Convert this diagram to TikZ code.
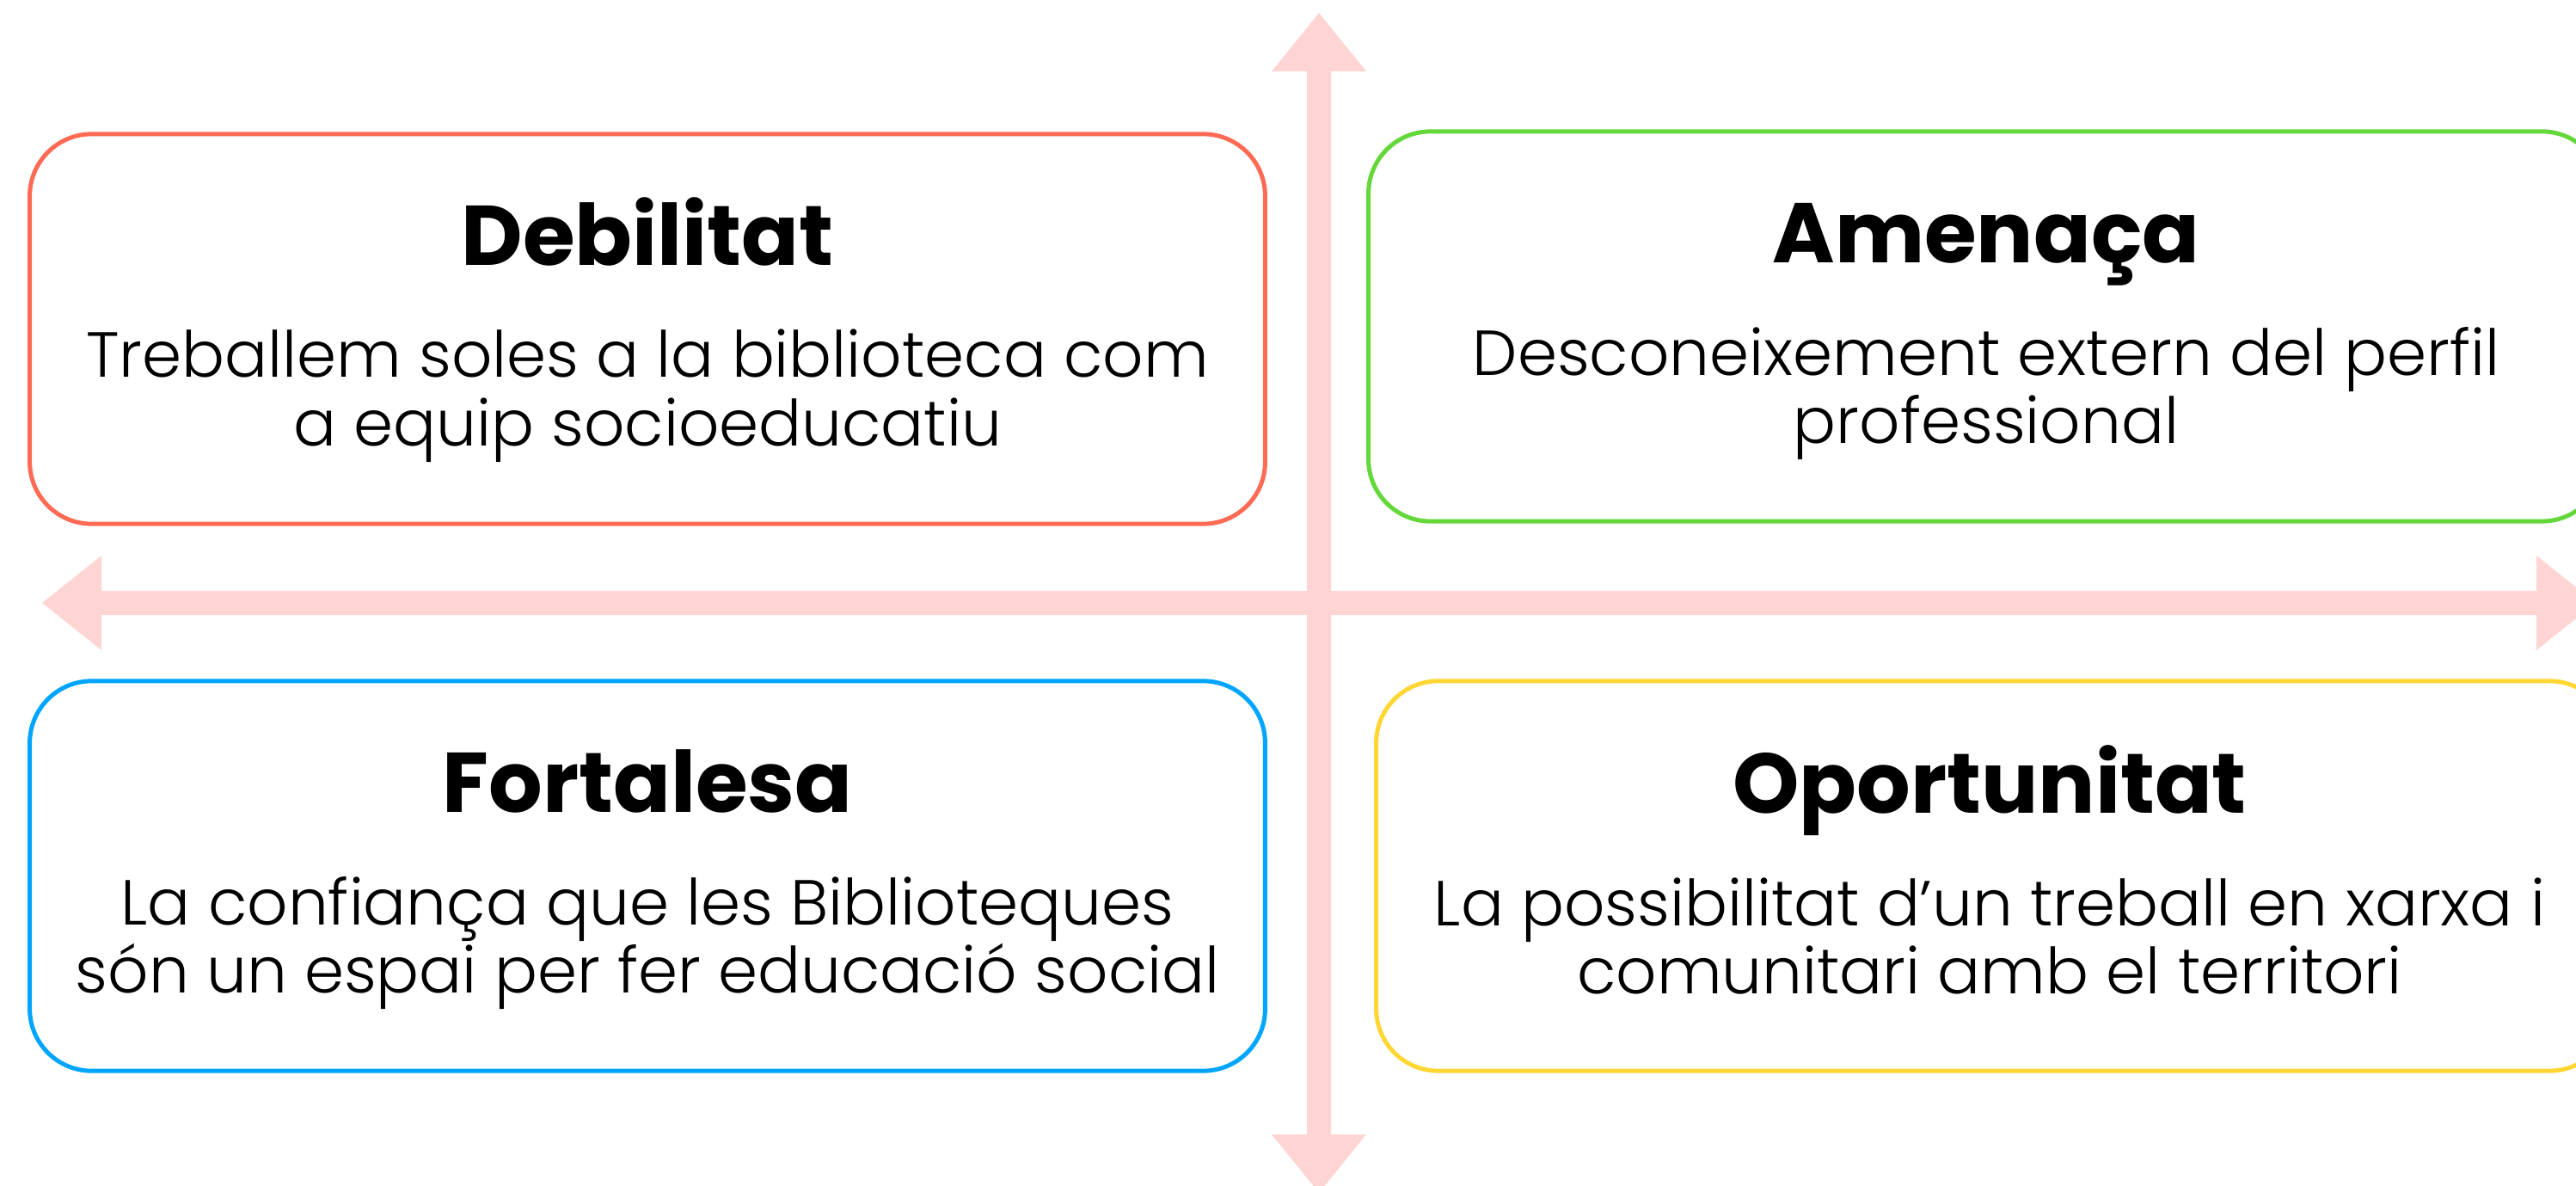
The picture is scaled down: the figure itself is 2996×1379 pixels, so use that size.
\documentclass[tikz,border=0pt]{standalone}
\usepackage{fontspec}
\newfontfamily\titlef{Poppins}
\newfontfamily\bodyf{Poppins Light}
\definecolor{axispink}{HTML}{FFD5D3}
\definecolor{cred}{HTML}{FF6A55}
\definecolor{cgreen}{HTML}{64D83A}
\definecolor{cblue}{HTML}{00A5FF}
\definecolor{cyellow}{HTML}{FFD633}
\begin{document}
\begin{tikzpicture}[x=0.01cm,y=-0.01cm,
  box/.style={draw, line width=0.05cm, rounded corners=0.72cm, minimum width=14.36cm, minimum height=4.53cm, inner sep=0pt},
  ttl/.style={anchor=base, inner sep=0pt, font=\titlef\bfseries\fontsize{28}{31}\selectfont},
  bdy/.style={anchor=base, inner sep=0pt, font=\bodyf\fontsize{21.05}{24}\selectfont},
  axisfill/.style={fill=axispink}]
\clip (0,0) rectangle (2996,1379);
\coordinate (o) at (1534,701);
% axes
\fill[axisfill] (1520,83) -- (1479,83) -- (1534,15) -- (1589,83) -- (1548,83) -- (1548,1319) -- (1589,1319) -- (1534,1387) -- (1479,1319) -- (1520,1319) -- cycle;
\fill[axisfill] (118,687) -- (118,646) -- (49,701) -- (118,756) -- (118,715) -- (2950,715) -- (2950,756) -- (3019,701) -- (2950,646) -- (2950,687) -- cycle;
% boxes
\node[box, draw=cred] (deb) at (753,382.5) {};
\node[box, draw=cgreen] (ame) at (2310,379.5) {};
\node[box, draw=cblue] (fort) at (753,1018.5) {};
\node[box, draw=cyellow] (opo) at (2319,1018.5) {};
% texts
\node[ttl] (debT) at (753,308) {Debilitat};
\node[bdy] (debA) at (753,439) {Treballem soles a la biblioteca com};
\node[bdy] (debB) at (753,518) {a equip socioeducatiu};
\node[ttl] (ameT) at (2310,305) {Amenaça};
\node[bdy] (ameA) at (2310,436) {Desconeixement extern del perfil};
\node[bdy] (ameB) at (2310,515) {professional};
\node[ttl] (fortT) at (753,944) {Fortalesa};
\node[bdy] (fortA) at (753,1075) {La confiança que les Biblioteques};
\node[bdy] (fortB) at (753,1154) {són un espai per fer educació social};
\node[ttl] (opoT) at (2314,945) {Oportunitat};
\node[bdy] (opoA) at (2314,1076) {La possibilitat d’un treball en xarxa i};
\node[bdy] (opoB) at (2314,1155) {comunitari amb el territori};
\end{tikzpicture}
\end{document}
